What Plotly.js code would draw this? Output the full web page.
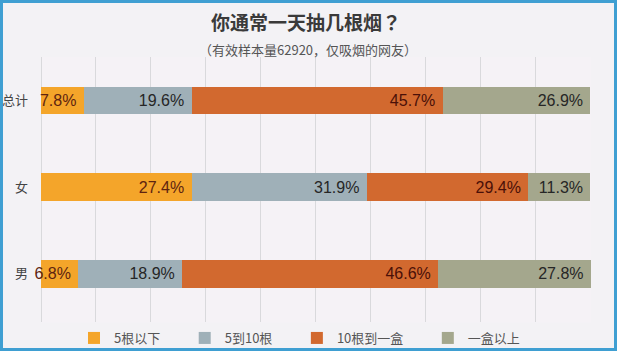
<!DOCTYPE html>
<html>
<head>
<meta charset="utf-8">
<script src="https://cdn.plot.ly/plotly-3.0.1.min.js"></script>
<style>
html,body{margin:0;padding:0;background:#f3f2f5;}
#wrap{width:617px;height:351px;box-sizing:border-box;border:3px solid #3f9fd2;overflow:hidden;}
#chart{width:611px;height:345px;}
</style>
</head>
<body>
<div id="wrap"><div id="chart"></div></div>
<script>
var categories = ['总计', '女', '男'];
var seriesNames = ['5根以下', '5到10根', '10根到一盒', '一盒以上'];
var under5 = [7.8, 27.4, 6.8];
var from5to10 = [19.6, 31.9, 18.9];
var from10toPack = [45.7, 29.4, 46.6];
var overPack = [26.9, 11.3, 27.8];
var titleText = '你通常一天抽几根烟？';
var subtitleText = '（有效样本量62920，仅吸烟的网友）';

var colors = ['#f4a52a', '#9fb0b8', '#d2692f', '#a4a78d'];
var textColors = ['#5e2410', '#262626', '#4a1008', '#262626'];
var values = [under5, from5to10, from10toPack, overPack];
var legendPad = '\u2003\u2002';

var traces = values.map(function(v, i) {
  return {
    type: 'bar',
    orientation: 'h',
    name: seriesNames[i] + legendPad,
    y: categories,
    x: v,
    width: 0.32,
    marker: {color: colors[i], line: {width: 0}},
    text: v.map(function(d){ return d.toFixed(1) + '%'; }),
    texttemplate: '%{text}\u00a0',
    textposition: 'inside',
    insidetextanchor: 'end',
    constraintext: 'none',
    cliponaxis: false,
    textangle: 0,
    textfont: {family: 'Liberation Sans, Arial, sans-serif', size: 16, color: textColors[i]},
    hoverinfo: 'none'
  };
});

var layout = {
  width: 611,
  height: 345,
  barmode: 'stack',
  paper_bgcolor: '#f3f2f5',
  plot_bgcolor: '#f5f2f6',
  margin: {l: 38, r: 23, t: 54, b: 18.5},
  title: {
    text: titleText,
    font: {family: 'Noto Sans CJK JP, Noto Sans CJK SC, sans-serif', size: 19, color: '#3a3a3a', weight: 'bold'},
    x: 0.496, xref: 'container', xanchor: 'center',
    y: 0.942, yref: 'container', yanchor: 'middle'
  },
  annotations: [{
    text: subtitleText,
    xref: 'paper', yref: 'paper',
    x: 0.485, y: 1.0276, xanchor: 'center', yanchor: 'middle',
    showarrow: false,
    font: {family: 'Noto Sans CJK SC, sans-serif', size: 13, color: '#555555'}
  }],
  xaxis: {
    range: [0, 100.1],
    tick0: 0,
    dtick: 10,
    showticklabels: false,
    showgrid: true,
    gridcolor: '#d9d9dc',
    gridwidth: 1,
    zeroline: true,
    zerolinecolor: '#d9d9dc',
    zerolinewidth: 1,
    showline: false,
    fixedrange: true
  },
  yaxis: {
    type: 'category',
    categoryorder: 'array',
    categoryarray: categories,
    range: [2.56, -0.5],
    showgrid: false,
    zeroline: false,
    showline: false,
    ticks: '',
    ticklabelstandoff: 12,
    tickfont: {family: 'Noto Sans CJK SC, sans-serif', size: 13, color: '#444444'},
    fixedrange: true
  },
  showlegend: true,
  legend: {
    orientation: 'h',
    traceorder: 'normal',
    x: 0.06, xref: 'paper', xanchor: 'left',
    y: 0.029, yref: 'container', yanchor: 'middle',
    bgcolor: 'rgba(0,0,0,0)',
    font: {family: 'Noto Sans CJK SC, sans-serif', size: 13, color: '#555555'}
  }
};

Plotly.newPlot('chart', traces, layout, {displayModeBar: false, staticPlot: true});
</script>
</body>
</html>
